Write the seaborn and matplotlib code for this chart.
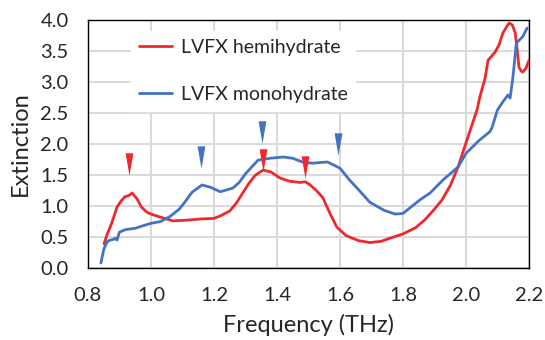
import numpy as np
import pandas as pd
import matplotlib
matplotlib.use("Agg")
import matplotlib.pyplot as plt
from matplotlib.path import Path
from matplotlib.ticker import MultipleLocator, FormatStrFormatter
import seaborn as sns

# LVFX hemihydrate
freq_hemi = [0.851, 0.86, 0.875, 0.892, 0.905, 0.917, 0.93, 0.94, 0.955, 0.97, 0.987,
             1.0, 1.03, 1.07, 1.11, 1.156, 1.2, 1.22, 1.25, 1.27, 1.29, 1.31, 1.33, 1.356,
             1.38, 1.41, 1.44, 1.473, 1.49, 1.505, 1.525, 1.546, 1.57, 1.59, 1.62, 1.66,
             1.695, 1.73, 1.77, 1.8, 1.84, 1.87, 1.9, 1.924, 1.95, 1.975, 2.0, 2.035,
             2.044, 2.06, 2.07, 2.092, 2.105, 2.117, 2.13, 2.137, 2.147, 2.156, 2.163,
             2.168, 2.175, 2.18, 2.19, 2.2]
ext_hemi = [0.39, 0.53, 0.72, 0.98, 1.08, 1.15, 1.17, 1.21, 1.12, 0.98, 0.9,
            0.87, 0.82, 0.76, 0.77, 0.79, 0.8, 0.84, 0.92, 1.04, 1.2, 1.36, 1.49, 1.58,
            1.55, 1.45, 1.4, 1.38, 1.39, 1.34, 1.25, 1.13, 0.86, 0.66, 0.52, 0.44,
            0.41, 0.43, 0.5, 0.55, 0.65, 0.78, 0.95, 1.1, 1.33, 1.63, 2.02, 2.55,
            2.76, 3.05, 3.35, 3.48, 3.6, 3.79, 3.9, 3.95, 3.92, 3.8, 3.5,
            3.24, 3.18, 3.16, 3.22, 3.35]

# LVFX monohydrate
freq_mono = [0.841, 0.85, 0.86, 0.87, 0.88, 0.886, 0.892, 0.9, 0.91, 0.92, 0.95, 0.98,
             1.0, 1.03, 1.06, 1.09, 1.11, 1.13, 1.162, 1.19, 1.22, 1.26, 1.28, 1.3, 1.32,
             1.34, 1.378, 1.42, 1.45, 1.48, 1.51, 1.56, 1.6, 1.63, 1.654, 1.695, 1.74,
             1.775, 1.8, 1.854, 1.886, 1.927, 1.975, 2.0, 2.04, 2.076, 2.083, 2.1, 2.117,
             2.133, 2.14, 2.149, 2.16, 2.18, 2.194]
ext_mono = [0.08, 0.3, 0.42, 0.45, 0.46, 0.48, 0.45, 0.58, 0.6, 0.62, 0.64, 0.69,
            0.72, 0.75, 0.83, 0.95, 1.08, 1.22, 1.34, 1.3, 1.23, 1.29, 1.38, 1.52, 1.63,
            1.74, 1.77, 1.79, 1.77, 1.71, 1.69, 1.71, 1.61, 1.42, 1.29, 1.06, 0.93,
            0.87, 0.88, 1.1, 1.21, 1.42, 1.63, 1.85, 2.05, 2.2, 2.27, 2.55, 2.68,
            2.79, 2.74, 3.08, 3.63, 3.73, 3.87]

# peak markers
peak_hemi_x = [0.93, 1.356, 1.489]
peak_hemi_y = [1.68, 1.74, 1.63]
peak_mono_x = [1.159, 1.352, 1.594]
peak_mono_y = [1.79, 2.2, 2.0]

red = "#f0282d"
blue = "#4472c4"

df = pd.concat([
    pd.DataFrame({"freq": freq_hemi, "ext": ext_hemi, "sample": "LVFX hemihydrate"}),
    pd.DataFrame({"freq": freq_mono, "ext": ext_mono, "sample": "LVFX monohydrate"}),
])

sns.set_style("white")
plt.rcParams["font.family"] = ["Lato", "DejaVu Sans"]

fig = plt.figure(figsize=(5.45, 3.4), dpi=100)
ax = fig.add_axes([88 / 545, 72 / 340, 441 / 545, 248 / 340])

ax.grid(True, color="#d9d9d9", linewidth=1.4, zorder=0)
ax.set_axisbelow(True)

sns.lineplot(data=df, x="freq", y="ext", hue="sample", estimator=None,
             palette=[red, blue], linewidth=2, ax=ax, zorder=3)

# narrow downward wedge like the original arrow marks
wedge = Path([(-0.35, 1.0), (0.35, 1.0), (0.0, -1.0), (-0.35, 1.0)],
             [Path.MOVETO, Path.LINETO, Path.LINETO, Path.CLOSEPOLY])
ax.scatter(peak_hemi_x, peak_hemi_y, marker=wedge, s=260, color=red, linewidths=0, zorder=4)
ax.scatter(peak_mono_x, peak_mono_y, marker=wedge, s=260, color=blue, linewidths=0, zorder=4)

ax.set_xlim(0.8, 2.2)
ax.set_ylim(0, 4.0)
ax.xaxis.set_major_locator(MultipleLocator(0.2))
ax.xaxis.set_minor_locator(MultipleLocator(0.1))
ax.yaxis.set_major_locator(MultipleLocator(0.5))
ax.yaxis.set_minor_locator(MultipleLocator(0.1))
ax.xaxis.set_major_formatter(FormatStrFormatter("%.1f"))
ax.yaxis.set_major_formatter(FormatStrFormatter("%.1f"))
ax.tick_params(which="both", direction="in", color="black", labelsize=14.5)
ax.tick_params(which="major", length=5, width=1, pad=14)
ax.tick_params(which="minor", length=4, width=1)
ax.tick_params(axis="x", which="both", top=False)
ax.tick_params(axis="y", which="both", right=False)
for s in ax.spines.values():
    s.set_color("black")
    s.set_linewidth(1)

ax.set_xlabel("Frequency (THz)", fontsize=17, labelpad=7)
ax.set_ylabel("Extinction", fontsize=17, labelpad=7)

leg = ax.legend(loc="upper left", bbox_to_anchor=(0.098, 0.955), fontsize=14,
                frameon=True, facecolor="white", edgecolor="white", framealpha=1,
                fancybox=False, borderaxespad=0, borderpad=0.4,
                handlelength=1.7, handletextpad=0.45, labelspacing=1.55)
leg.set_zorder(2)
for line in leg.get_lines():
    line.set_linewidth(2)

fig.savefig("out.png", dpi=100)
